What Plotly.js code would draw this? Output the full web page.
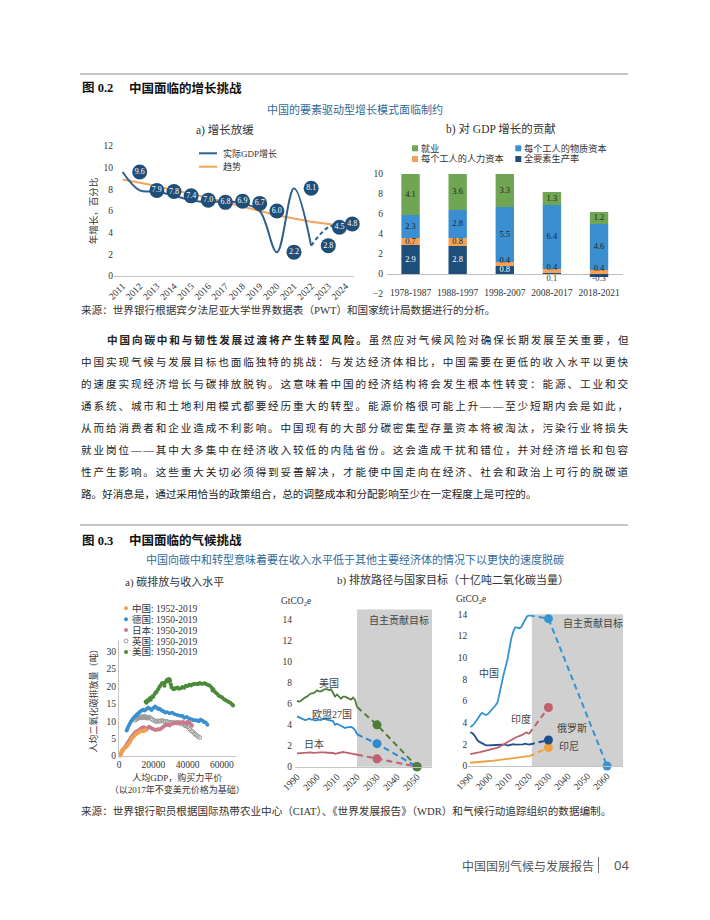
<!DOCTYPE html>
<html>
<head>
<meta charset="utf-8">
<script src="https://cdn.plot.ly/plotly-3.0.1.min.js"></script>
<style>
html,body{margin:0;padding:0;background:#fff;}
#chart{width:710px;height:920px;}
</style>
</head>
<body>
<div id="chart"></div>
<script>
// ======================= DATA =======================
// 图0.2 a) 增长放缓
const gdpYears  = [2011,2012,2013,2014,2015,2016,2017,2018,2019,2020,2021,2022,2023,2024];
const gdpGrowth = [9.6,7.9,7.8,7.4,7.0,6.8,6.9,6.7,6.0,2.2,8.1,2.8,4.5,4.8];
const gdpTrend  = [8.9,8.6,8.3,7.9,7.6,7.2,6.8,6.4,6.0,5.6,5.3,5.0,4.8,4.6];
// where the value bubbles sit in the original (shifted one year to the right)
const gdpBubbleYears = [2012,2013,2014,2015,2016,2017,2018,2019,2020,2021,2022,2023,2023.65,2024.4];
const gdpSeriesNames = ['实际GDP增长','趋势'];

// 图0.2 b) 对GDP增长的贡献
const periods = ['1978-1987','1988-1997','1998-2007','2008-2017','2018-2021'];
const contribEmployment = [4.1,3.6,3.3,1.3,1.2];
const contribPhysical   = [2.3,2.8,5.5,6.4,4.6];
const contribHuman      = [0.7,0.8,0.4,0.4,0.4];
const contribTFP        = [2.9,2.8,0.8,0.1,-0.3];
const contribNames = ['就业','每个工人的物质资本','每个工人的人力资本','全要素生产率'];

// 图0.3 a) 碳排放与收入水平 (人均GDP, 人均CO2)
const chinaGdp = [700,800,900,1000,1100,1200,1300,1450,1600,1800,2000,2200,2500,2800,3200,3600,4000,4500,5000,5600,6200,6800,7400,8000,8700,9400,10200,11000,11800,12600,13400,14200,15000,15800];
const chinaCo2 = [0.1,0.2,0.3,0.5,0.6,0.8,0.9,1.1,1.3,1.4,1.6,1.8,1.9,2.1,2.3,2.5,2.6,2.8,3.1,3.5,3.9,4.4,5.0,5.4,5.7,6.1,6.4,6.6,6.9,7.1,7.2,7.2,7.3,7.5];
const germanyGdp = [4500,5000,5600,6200,6800,7500,8200,9000,9700,10500,11300,12200,13000,14000,15000,16000,17000,18000,19000,20000,21000,22000,22800,23500,24000,25000,26000,27000,28000,29500,31000,32500,34000,35500,37000,38000,39500,41000,42500,43500,44500,45500,46500,47500,48500,49500,50500,51500];
const germanyCo2 = [7.3,8.0,8.6,9.2,9.8,10.3,10.8,11.2,11.6,11.9,12.3,12.7,13.0,13.3,13.1,13.5,13.9,13.6,13.2,13.8,14.2,13.9,13.5,13.6,13.4,13.1,12.8,12.5,12.6,12.3,12.4,12.0,11.8,11.6,11.5,11.0,11.2,10.8,10.5,10.3,10.3,10.2,10.0,10.4,10.2,9.8,9.6,9.0];
const japanGdp = [2000,2500,3000,3600,4200,4800,5500,6200,7000,7800,8600,9500,10500,11500,12500,13500,14500,15500,16500,17500,18500,19500,20500,21500,22500,23500,24500,25500,26500,27500,28500,29500,30500,31500,32500,33500,34500,35500,36500,37500,38500,39500,40000,41000,42000,42500];
const japanCo2 = [1.5,1.9,2.2,2.6,3.0,3.6,4.1,4.7,5.3,5.8,6.3,6.8,7.1,7.4,7.8,8.1,8.3,8.0,7.9,8.4,8.1,7.8,7.6,7.5,7.7,7.6,7.9,8.3,8.7,8.9,9.0,8.8,9.2,9.4,9.5,9.4,9.6,9.7,9.6,9.8,9.5,9.2,9.9,9.6,9.1,8.7];
const ukGdp = [9500,10000,10500,11000,11500,12000,12500,13000,13500,14000,14500,15000,15500,16000,16500,17000,17500,18500,19500,20500,21500,22000,23000,24000,25000,26000,27000,28000,29000,30000,31000,32000,33000,34000,35000,36000,37000,38000,38500,39000,40000,41000,42000,43000,44000,45000,46000,47000];
const ukCo2 = [10.3,10.6,10.9,10.8,11.0,11.2,11.0,11.2,11.3,11.0,11.1,11.4,11.2,11.1,10.9,11.0,11.2,10.8,10.5,10.2,10.0,9.9,10.1,10.0,10.2,10.0,10.0,9.9,9.7,9.6,9.7,9.5,9.6,9.6,9.5,9.3,9.4,9.1,8.7,8.8,8.4,7.8,7.3,7.0,6.4,6.0,5.6,5.3];
const usGdp = [15500,16000,16500,17000,17500,18000,18500,19000,19500,20000,20800,21500,22000,22800,23500,24200,25000,25800,26500,27000,27800,28300,28800,29300,29800,30200,30500,31000,31500,32000,33000,34000,35000,36000,37000,38000,39000,40000,41000,42000,43000,44000,45000,46000,47000,48000,49000,50000,51000,52000,53000,54000,54500,55000,56000,57000,58000,59000,60000,61000,62000,63000,64000,65000,66000,66500];
const usCo2 = [15.6,15.3,16.0,15.8,16.2,16.6,16.2,16.8,17.2,17.0,17.8,18.3,18.5,19.2,19.8,20.3,20.9,21.0,20.2,21.2,21.8,22.0,21.4,22.1,21.7,20.6,19.8,19.6,19.3,19.2,19.5,19.7,19.3,19.5,19.8,19.6,20.2,20.1,20.5,20.3,20.6,20.7,20.8,20.6,21.0,20.8,20.8,20.9,20.6,20.4,20.2,19.6,18.8,19.2,18.4,18.0,17.4,17.1,16.9,16.4,16.1,15.8,15.5,15.2,14.8,14.5];
const scatterLegend = ['中国: 1952-2019','德国: 1950-2019','日本: 1950-2019','英国: 1950-2019','美国: 1950-2019'];

// 图0.3 b) 排放路径与国家目标 (GtCO2e)
const histYears = [1990,1991,1992,1993,1994,1995,1996,1997,1998,1999,2000,2001,2002,2003,2004,2005,2006,2007,2008,2009,2010,2011,2012,2013,2014,2015,2016,2017,2018,2019,2020];
const usEm    = [6.3,6.2,6.3,6.5,6.6,6.7,6.9,7.0,7.0,7.1,7.3,7.2,7.2,7.3,7.4,7.4,7.3,7.4,7.1,6.7,6.9,6.7,6.5,6.7,6.7,6.6,6.5,6.4,6.6,6.4,5.7];
const euEm    = [4.8,4.7,4.6,4.5,4.45,4.5,4.6,4.5,4.5,4.4,4.45,4.5,4.45,4.55,4.55,4.5,4.5,4.45,4.35,4.0,4.1,4.0,3.9,3.85,3.7,3.75,3.75,3.8,3.7,3.5,3.1];
const japanEm = [1.27,1.29,1.30,1.28,1.35,1.36,1.37,1.36,1.32,1.35,1.37,1.34,1.37,1.37,1.37,1.36,1.35,1.38,1.31,1.23,1.29,1.34,1.38,1.40,1.36,1.32,1.30,1.29,1.25,1.21,1.15];
const chinaEm = [3.6,3.7,3.9,4.1,4.4,4.7,4.9,4.8,4.7,4.8,5.0,5.1,5.3,5.6,5.9,6.8,7.6,8.4,9.1,9.8,10.8,11.8,12.4,12.8,12.8,12.7,12.8,13.1,13.5,13.8,13.9];
const indiaEm = [1.10,1.12,1.15,1.18,1.22,1.27,1.32,1.36,1.40,1.46,1.50,1.53,1.57,1.62,1.70,1.78,1.87,1.97,2.07,2.20,2.30,2.40,2.52,2.58,2.70,2.75,2.80,2.90,3.05,3.10,2.95];
const russiaEm = [3.10,3.05,2.85,2.60,2.30,2.20,2.10,1.95,1.90,1.90,1.90,1.90,1.90,1.92,1.93,1.93,1.96,1.97,2.00,1.88,1.95,2.00,2.02,1.98,1.98,1.96,1.97,2.00,2.06,2.05,1.97];
const indonesiaEm = [0.30,0.31,0.32,0.33,0.34,0.36,0.38,0.40,0.41,0.43,0.46,0.48,0.50,0.52,0.54,0.56,0.57,0.58,0.60,0.61,0.64,0.67,0.70,0.71,0.72,0.75,0.78,0.82,0.86,0.90,0.88];
const targetYearsDev = [2030,2050];
const usTarget = [4.0,0.0];
const euTarget = [2.2,0.0];
const japanTarget = [0.75,0.0];
const chinaTargetYears = [2030,2060];
const chinaTarget = [13.6,0.0];
const targetYear2030 = [2030];
const indiaTarget = [5.4];
const russiaTarget = [2.4];
const indonesiaTarget = [1.7];
const ndcStartMid = 2020;
const ndcStartRight = 2021.5;

// ======================= STYLE / HELPERS =======================
const W = 710, H = 920;
const px = x => x / W;
const py = y => 1 - y / H;
const SERIF = '"Liberation Serif","Noto Sans CJK SC",serif';
const SANS = '"Noto Sans CJK SC","Noto Sans",sans-serif';
const TXT = '#333333';
const C = {
  gdp:'#2d5f8f', bubble:'#1f4e79', trend:'#f2a55a',
  emp:'#70a553', phys:'#3a8fd2', human:'#f4a259', tfp:'#1f4e79',
  cn:'#f0a050', de:'#3a8fd0', jp:'#c97a8c', uk:'#9a9a9a', us:'#4a8a3a',
  usL:'#4e7d3a', euL:'#2e8bd0', jpL:'#c0606c',
  chinaL:'#3593d3', indiaL:'#c0606c', russiaL:'#1f4e8a', indoL:'#f0a040',
  ndc:'#d0d0d0', rule:'#8c8c8c', axis:'#c4c4c4'
};
const tf = s => ({family: SERIF, size: s, color: TXT});
function ax(extra) {
  return Object.assign({showgrid:false, zeroline:false, showline:false, ticks:'', fixedrange:true, tickfont:tf(9.5)}, extra);
}

const traces = [];
const annotations = [];
const shapes = [];
const justifyTargets = {};
function addText(text, x, y, o) {
  annotations.push(Object.assign({xref:'paper', yref:'paper', x:px(x), y:py(y), text:text, showarrow:false,
    xanchor:'center', yanchor:'middle', font:{family:SERIF, size:10, color:TXT}}, o || {}));
  return annotations.length - 1;
}
function dataText(text, xr, yr, x, y, size) {
  annotations.push({xref:xr, yref:yr, x:x, y:y, text:text, showarrow:false, xanchor:'center', yanchor:'middle',
    font:{family:SERIF, size:size || 10, color:'#444'}});
}

// ======================= 图0.2 a) =======================
traces.push({type:'scatter', mode:'lines', x:gdpYears, y:gdpTrend, xaxis:'x', yaxis:'y',
  line:{color:C.trend, width:2}, hoverinfo:'skip', showlegend:false, name:gdpSeriesNames[1]});
traces.push({type:'scatter', mode:'lines', x:gdpYears.slice(0,12), y:gdpGrowth.slice(0,12), xaxis:'x', yaxis:'y',
  line:{color:C.gdp, width:2, shape:'spline', smoothing:1}, hoverinfo:'skip', showlegend:false, name:gdpSeriesNames[0]});
traces.push({type:'scatter', mode:'lines', x:gdpYears.slice(11), y:gdpGrowth.slice(11), xaxis:'x', yaxis:'y',
  line:{color:C.gdp, width:2, shape:'spline', smoothing:1, dash:'4px,3px'}, hoverinfo:'skip', showlegend:false});
traces.push({type:'scatter', mode:'markers+text', x:gdpBubbleYears, y:gdpGrowth, xaxis:'x', yaxis:'y',
  marker:{size:15, color:C.bubble}, text:gdpGrowth.map(v => v.toFixed(1)), textposition:'middle center',
  textfont:{family:SERIF, size:8, color:'#ffffff'}, cliponaxis:false, hoverinfo:'skip', showlegend:false});

// ======================= 图0.2 b) =======================
const barSeries = [
  {y:contribTFP, color:C.tfp, name:contribNames[3]},
  {y:contribHuman, color:C.human, name:contribNames[2]},
  {y:contribPhysical, color:C.phys, name:contribNames[1]},
  {y:contribEmployment, color:C.emp, name:contribNames[0]}
];
barSeries.forEach(s => traces.push({type:'bar', x:periods, y:s.y, xaxis:'x2', yaxis:'y2', width:0.39,
  marker:{color:s.color, line:{width:0}}, name:s.name, showlegend:false, hoverinfo:'skip'}));
const labX = [], labY = [], labT = [], labC = [];
periods.forEach((p, i) => {
  const t = contribTFP[i];
  const small = Math.abs(t) < 0.5;
  labX.push(p); labY.push(small ? -0.45 : t / 2); labT.push(t.toFixed(1));
  labC.push(small ? '#333333' : '#ffffff');
  let base = Math.max(t, 0);
  [contribHuman, contribPhysical, contribEmployment].forEach((arr, k) => {
    const v = arr[i];
    // thin segments: nudge the label up a little so it stays readable, as in the print
    const nudge = (k === 0 && v < 0.5) ? 0.35 : 0;
    labX.push(p); labY.push(base + v / 2 + nudge); labT.push(v.toFixed(1)); labC.push('#222222');
    base += v;
  });
});
traces.push({type:'scatter', mode:'text', x:labX, y:labY, text:labT, xaxis:'x2', yaxis:'y2',
  textfont:{family:SERIF, size:8.5, color:labC}, cliponaxis:false, hoverinfo:'skip', showlegend:false});

// ======================= 图0.3 a) =======================
const scat = [
  {x:ukGdp, y:ukCo2, sym:'circle-open', color:C.uk},
  {x:usGdp, y:usCo2, sym:'circle', color:C.us},
  {x:germanyGdp, y:germanyCo2, sym:'circle', color:C.de},
  {x:japanGdp, y:japanCo2, sym:'circle', color:C.jp},
  {x:chinaGdp, y:chinaCo2, sym:'circle', color:C.cn}
];
scat.forEach(s => traces.push({type:'scatter', mode:'markers', x:s.x, y:s.y, xaxis:'x3', yaxis:'y3',
  marker:{size:4, symbol:s.sym, color:s.color, line:{width:s.sym === 'circle-open' ? 1 : 0, color:s.color}},
  hoverinfo:'skip', showlegend:false, cliponaxis:false}));

// ======================= 图0.3 b) =======================
function pathway(xa, ya, hist, tYears, tVals, color, lineColor) {
  traces.push({type:'scatter', mode:'lines', x:histYears, y:hist, xaxis:xa, yaxis:ya,
    line:{color:lineColor, width:1.8}, hoverinfo:'skip', showlegend:false});
  traces.push({type:'scatter', mode:'lines', x:[histYears[histYears.length-1]].concat(tYears),
    y:[hist[hist.length-1]].concat(tVals), xaxis:xa, yaxis:ya,
    line:{color:lineColor, width:2, dash:'6px,4px'}, hoverinfo:'skip', showlegend:false});
  traces.push({type:'scatter', mode:'markers', x:tYears, y:tVals, xaxis:xa, yaxis:ya,
    marker:{size:9, color:color}, cliponaxis:false, hoverinfo:'skip', showlegend:false});
}
pathway('x4','y4', japanEm, targetYearsDev, japanTarget, C.jpL, C.jpL);
pathway('x4','y4', euEm, targetYearsDev, euTarget, C.euL, C.euL);
pathway('x4','y4', usEm, targetYearsDev, usTarget, C.usL, C.usL);
pathway('x5','y5', indonesiaEm, targetYear2030, indonesiaTarget, C.indoL, C.indoL);
pathway('x5','y5', russiaEm, targetYear2030, russiaTarget, C.russiaL, C.russiaL);
pathway('x5','y5', indiaEm, targetYear2030, indiaTarget, C.indiaL, C.indiaL);
pathway('x5','y5', chinaEm, chinaTargetYears, chinaTarget, C.chinaL, C.chinaL);

shapes.push({type:'rect', xref:'x4', yref:'y4 domain', x0:ndcStartMid, x1:2057.5, y0:0, y1:1,
  fillcolor:C.ndc, line:{width:0}, layer:'below'});
shapes.push({type:'rect', xref:'x5', yref:'y5 domain', x0:ndcStartRight, x1:2068.3, y0:0, y1:1,
  fillcolor:C.ndc, line:{width:0}, layer:'below'});

// ======================= TEXT =======================
// rules
shapes.push({type:'line', xref:'paper', yref:'paper', x0:px(80), x1:px(628), y0:py(74), y1:py(74), line:{color:C.rule, width:1}});
shapes.push({type:'line', xref:'paper', yref:'paper', x0:px(80), x1:px(628), y0:py(525), y1:py(525), line:{color:C.rule, width:1}});

const titleFont = {family:SERIF, size:12.5, color:'#111'};
addText('<b>图 0.2</b>', 80, 88.5, {xanchor:'left', font:titleFont});
addText('<b>中国面临的增长挑战</b>', 127, 88.5, {xanchor:'left', font:titleFont});
addText('中国的要素驱动型增长模式面临制约', 355, 109, {font:{family:SERIF, size:11, color:'#2f6b9a'}});
addText('a) 增长放缓', 225, 130, {font:{family:SERIF, size:11.5, color:TXT}});
addText('b) 对 GDP 增长的贡献', 501, 128.5, {font:{family:SERIF, size:11.5, color:TXT}});

// legend a)
shapes.push({type:'line', xref:'paper', yref:'paper', x0:px(199), x1:px(217), y0:py(153.3), y1:py(153.3), line:{color:C.gdp, width:2}});
shapes.push({type:'line', xref:'paper', yref:'paper', x0:px(199), x1:px(217), y0:py(166.7), y1:py(166.7), line:{color:C.trend, width:2}});
addText(gdpSeriesNames[0], 221, 153.3, {xanchor:'left', font:{family:SERIF, size:9, color:TXT}});
addText(gdpSeriesNames[1], 221, 166.7, {xanchor:'left', font:{family:SERIF, size:9, color:TXT}});

// legend b)
const legB = [
  {name:contribNames[0], color:C.emp, x:415, y:148.3},
  {name:contribNames[1], color:C.phys, x:518.3, y:148.3},
  {name:contribNames[2], color:C.human, x:415, y:159},
  {name:contribNames[3], color:C.tfp, x:518.3, y:159}
];
legB.forEach(l => {
  shapes.push({type:'rect', xref:'paper', yref:'paper', x0:px(l.x - 3), x1:px(l.x + 3), y0:py(l.y + 3), y1:py(l.y - 3),
    fillcolor:l.color, line:{width:0}});
  addText(l.name, l.x + 4, l.y, {xanchor:'left', font:{family:SERIF, size:9.2, color:TXT}});
});

addText('来源：世界银行根据宾夕法尼亚大学世界数据表（PWT）和国家统计局数据进行的分析。', 79, 309.5,
  {xanchor:'left', font:{family:SERIF, size:10.6, color:TXT}});

// paragraph
const paraLines = [
  '<b>中国向碳中和与韧性发展过渡将产生转型风险。</b>虽然应对气候风险对确保长期发展至关重要，但',
  '中国实现气候与发展目标也面临独特的挑战：与发达经济体相比，中国需要在更低的收入水平以更快',
  '的速度实现经济增长与碳排放脱钩。这意味着中国的经济结构将会发生根本性转变：能源、工业和交',
  '通系统、城市和土地利用模式都要经历重大的转型。能源价格很可能上升——至少短期内会是如此，',
  '从而给消费者和企业造成不利影响。中国现有的大部分碳密集型存量资本将被淘汰，污染行业将损失',
  '就业岗位——其中大多集中在经济收入较低的内陆省份。这会造成干扰和错位，并对经济增长和包容',
  '性产生影响。这些重大关切必须得到妥善解决，才能使中国走向在经济、社会和政治上可行的脱碳道',
  '路。好消息是，通过采用恰当的政策组合，总的调整成本和分配影响至少在一定程度上是可控的。'
];
paraLines.forEach((t, i) => {
  const x0 = i === 0 ? 104.5 : 79;
  const idx = addText(t, x0, 340 + 22 * i, {xanchor:'left', align:'left', font:{family:SERIF, size:10.6, color:'#222'}});
  if (i < paraLines.length - 1) justifyTargets[idx] = 628 - x0 - 2;
});

// figure 0.3 headings
addText('<b>图 0.3</b>', 80, 540.5, {xanchor:'left', font:titleFont});
addText('<b>中国面临的气候挑战</b>', 127, 540.5, {xanchor:'left', font:titleFont});
addText('中国向碳中和转型意味着要在收入水平低于其他主要经济体的情况下以更快的速度脱碳', 355, 559.5,
  {font:{family:SERIF, size:11, color:'#2f6b9a'}});
addText('a) 碳排放与收入水平', 174, 581.5, {font:{family:SERIF, size:11, color:TXT}});
addText('b) 排放路径与国家目标（十亿吨二氧化碳当量）', 453, 580, {font:{family:SERIF, size:11, color:TXT}});

// scatter legend
const legA = [C.cn, C.de, C.jp, C.uk, C.us];
const legAy = [608.3, 619.2, 630.1, 641, 651.9];
scatterLegend.forEach((name, i) => {
  const open = i === 3;
  shapes.push({type:'circle', xref:'paper', yref:'paper', x0:px(124), x1:px(128), y0:py(legAy[i] + 2), y1:py(legAy[i] - 2),
    fillcolor: open ? '#ffffff' : legA[i], line:{width: open ? 1 : 0, color:legA[i]}});
  addText(name, 129.5, legAy[i], {xanchor:'left', font:{family:SERIF, size:9.5, color:TXT}});
});

// unit labels
addText('GtCO<sub>2</sub>e', 279, 601.7, {xanchor:'left', font:{family:SERIF, size:9.5, color:TXT}});
addText('GtCO<sub>2</sub>e', 454, 599.3, {xanchor:'left', font:{family:SERIF, size:9.5, color:TXT}});

// series labels (data coordinates)
dataText('美国', 'x4', 'y4', 2005.8, 8.0, 10);
dataText('欧盟27国', 'x4', 'y4', 2007.5, 5.0, 10);
dataText('日本', 'x4', 'y4', 1998.3, 2.15, 10);
dataText('自主贡献目标', 'x4', 'y4', 2040.8, 14.0, 10);
dataText('中国', 'x5', 'y5', 1999.4, 8.55, 10);
dataText('印度', 'x5', 'y5', 2016.2, 4.35, 10);
dataText('俄罗斯', 'x5', 'y5', 2042, 3.5, 10);
dataText('印尼', 'x5', 'y5', 2040.3, 1.8, 10);
dataText('自主贡献目标', 'x5', 'y5', 2053, 13.2, 10);

addText('来源：世界银行职员根据国际热带农业中心（CIAT）、《世界发展报告》（WDR）和气候行动追踪组织的数据编制。', 79, 811,
  {xanchor:'left', font:{family:SERIF, size:10.6, color:TXT}});

// footer
addText('中国国别气候与发展报告', 595.5, 865, {xanchor:'right', font:{family:SANS, size:12, color:'#555'}});
shapes.push({type:'line', xref:'paper', yref:'paper', x0:px(598.5), x1:px(598.5), y0:py(857), y1:py(873), line:{color:'#777', width:1}});
addText('04', 612, 865, {xanchor:'left', font:{family:'"Noto Sans",sans-serif', size:13, color:'#555'}});

// ======================= LAYOUT =======================
const layout = {
  width:W, height:H, margin:{l:0, r:0, t:0, b:0},
  paper_bgcolor:'#ffffff', plot_bgcolor:'rgba(0,0,0,0)',
  showlegend:false, hovermode:false, barmode:'relative',
  font:{family:SERIF, color:TXT},
  xaxis: ax({domain:[px(114), px(354)], range:[2010.5, 2024.5], tickvals:gdpYears, tickangle:-45,
    showline:true, linecolor:C.axis, anchor:'y'}),
  yaxis: ax({domain:[py(276), py(146)], range:[0, 12], tickvals:[0,2,4,6,8,10,12], anchor:'x',
    title:{text:'年增长，百分比', font:{family:SERIF, size:9.5, color:TXT}, standoff:4}}),
  xaxis2: ax({domain:[px(387), px(622.6)], type:'category', anchor:'free', position:py(285)}),
  yaxis2: ax({domain:[py(294), py(174)], range:[-2, 10], tickvals:[-2,0,2,4,6,8,10], anchor:'x2',
    zeroline:true, zerolinecolor:'#bfbfbf', zerolinewidth:1, ticklabelstandoff:3}),
  xaxis3: ax({domain:[px(119), px(235.7)], range:[0, 68000], tickvals:[0,20000,40000,60000], tickformat:'d',
    showline:true, linecolor:C.axis, anchor:'y3',
    title:{text:'人均GDP，购买力平价<br>（以2017年不变美元价格为基础）', font:{family:SERIF, size:9, color:TXT}, standoff:5}}),
  yaxis3: ax({domain:[py(756), py(641.2)], range:[0, 33], tickvals:[0,5,10,15,20,25,30],
    showline:true, linecolor:C.axis, anchor:'x3',
    title:{text:'人均二氧化碳排放量（吨）', font:{family:SERIF, size:9, color:TXT}, standoff:7}}),
  xaxis4: ax({domain:[px(295), px(432)], range:[1989, 2057.5], tickvals:[1990,2000,2010,2020,2030,2040,2050],
    tickangle:-45, showline:true, linecolor:C.axis, anchor:'y4', tickfont:tf(9.5)}),
  yaxis4: ax({domain:[py(766.7), py(609.6)], range:[0, 15], tickvals:[0,2,4,6,8,10,12,14], anchor:'x4',
    tickfont:tf(9.5), ticklabelstandoff:2}),
  xaxis5: ax({domain:[px(468.3), px(623.3)], range:[1989, 2068.3], tickvals:[1990,2000,2010,2020,2030,2040,2050,2060],
    tickangle:-45, showline:true, linecolor:C.axis, anchor:'y5', tickfont:tf(9.5)}),
  yaxis5: ax({domain:[py(766), py(614.3)], range:[0, 14], tickvals:[0,2,4,6,8,10,12,14], anchor:'x5',
    tickfont:tf(9.5)}),
  shapes: shapes,
  annotations: annotations
};

Plotly.newPlot('chart', traces, layout, {staticPlot:true, displayModeBar:false}).then(gd => {
  // justify full paragraph lines (like the printed page)
  gd.querySelectorAll('g.annotation').forEach(g => {
    const idx = +g.getAttribute('data-index');
    const target = justifyTargets[idx];
    if (!target) return;
    const t = g.querySelector('text.annotation-text');
    if (!t) return;
    const n = Array.from(t.textContent).length;
    const len = t.getComputedTextLength();
    const ls = (target - len) / (n - 1);
    if (ls > 0) t.style.letterSpacing = ls.toFixed(3) + 'px';
  });
});
</script>
</body>
</html>
